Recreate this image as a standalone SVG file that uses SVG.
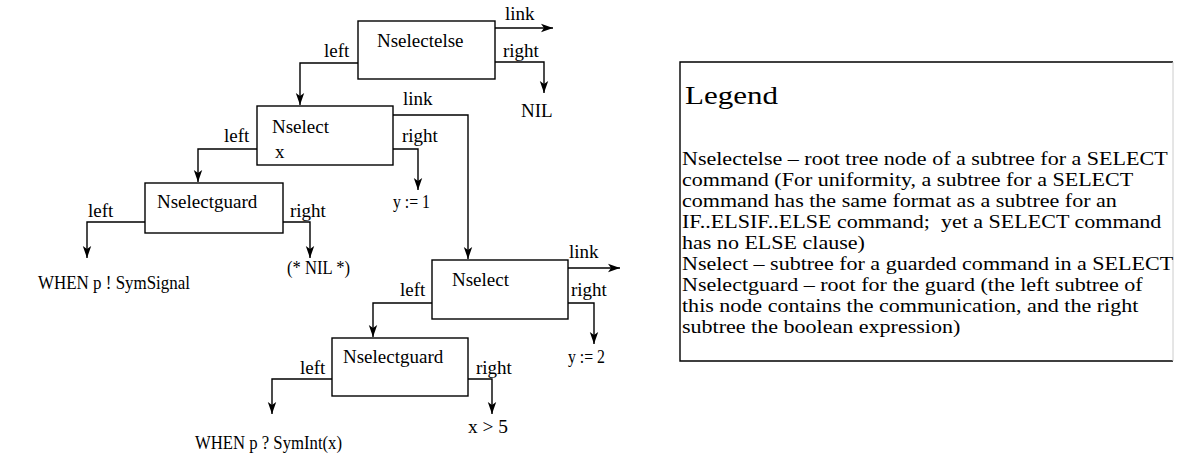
<svg xmlns="http://www.w3.org/2000/svg" width="1177" height="455" viewBox="0 0 1177 455">
<defs>
<style>
text { font-family: "Liberation Serif", "Times New Roman", serif; font-size: 19px; fill: #000; }
.leaf { font-size: 18.5px; }
.node rect { fill: #fff; stroke: #000; stroke-width: 1.4; }
.edge { fill: none; stroke: #000; stroke-width: 1.4; }
.legend-title { font-size: 26px; }
.legend-body { font-size: 19px; }
</style>
<marker id="arr" viewBox="0 0 12 10" refX="12" refY="5" markerWidth="12" markerHeight="10" markerUnits="userSpaceOnUse" orient="auto">
<path d="M0,0.8 L12,5 L0,9.2 L3,5 z" fill="#000"/>
</marker>
</defs>
<rect width="1177" height="455" fill="#fff"/>

<g id="connectors">
<path class="edge" d="M495,28 H553" marker-end="url(#arr)"/>
<path class="edge" d="M495,62 H544 V93" marker-end="url(#arr)"/>
<path class="edge" d="M358,63 H300 V105" marker-end="url(#arr)"/>
<path class="edge" d="M393,115 H468 V259" marker-end="url(#arr)"/>
<path class="edge" d="M393,149 H418 V190" marker-end="url(#arr)"/>
<path class="edge" d="M257,149 H198 V182" marker-end="url(#arr)"/>
<path class="edge" d="M145,222 H87 V258" marker-end="url(#arr)"/>
<path class="edge" d="M283,222 H310 V258" marker-end="url(#arr)"/>
<path class="edge" d="M568,268 H620" marker-end="url(#arr)"/>
<path class="edge" d="M568,303 H594 V344" marker-end="url(#arr)"/>
<path class="edge" d="M432,303 H373 V337" marker-end="url(#arr)"/>
<path class="edge" d="M332,379 H272 V414" marker-end="url(#arr)"/>
<path class="edge" d="M468,379 H492 V414" marker-end="url(#arr)"/>
<text x="505" y="20">link</text>
<text x="503" y="57">right</text>
<text x="324" y="57">left</text>
<text x="403" y="105">link</text>
<text x="402" y="142">right</text>
<text x="224" y="142">left</text>
<text x="88" y="217">left</text>
<text x="290" y="217">right</text>
<text x="569" y="258">link</text>
<text x="571" y="296">right</text>
<text x="400" y="296">left</text>
<text x="300" y="374">left</text>
<text x="476" y="374">right</text>
</g>

<g id="nselectelse" class="node">
<rect x="358" y="21" width="137" height="58"/>
<text x="377" y="47">Nselectelse</text>
</g>
<g id="nselect1" class="node">
<rect x="257" y="106" width="136" height="59"/>
<text x="272" y="133">Nselect</text>
<text x="275" y="158">x</text>
</g>
<g id="nselectguard1" class="node">
<rect x="145" y="183" width="138" height="50"/>
<text x="157" y="208">Nselectguard</text>
</g>
<g id="nselect2" class="node">
<rect x="432" y="260" width="136" height="59"/>
<text x="452" y="286">Nselect</text>
</g>
<g id="nselectguard2" class="node">
<rect x="332" y="338" width="136" height="58"/>
<text x="343" y="363">Nselectguard</text>
</g>

<g id="leaf-nil"><text x="521" y="117">NIL</text></g>
<g id="leaf-y1"><text class="leaf" x="393" y="208" textLength="37" lengthAdjust="spacingAndGlyphs">y := 1</text></g>
<g id="leaf-when1"><text class="leaf" x="38" y="289" textLength="152" lengthAdjust="spacingAndGlyphs">WHEN p ! SymSignal</text></g>
<g id="leaf-nil2"><text class="leaf" x="287" y="274" textLength="63" lengthAdjust="spacingAndGlyphs">(* NIL *)</text></g>
<g id="leaf-y2"><text class="leaf" x="568" y="363" textLength="37" lengthAdjust="spacingAndGlyphs">y := 2</text></g>
<g id="leaf-x5"><text class="leaf" x="468" y="433" textLength="40" lengthAdjust="spacingAndGlyphs">x &gt; 5</text></g>
<g id="leaf-when2"><text class="leaf" x="195" y="449" textLength="147" lengthAdjust="spacingAndGlyphs">WHEN p ? SymInt(x)</text></g>

<g id="legend">
<path d="M1173,62 H680 V361 H1173" fill="none" stroke="#000" stroke-width="1.4"/>
<path d="M1173,62 V361" fill="none" stroke="#ccc" stroke-width="1"/>
<text class="legend-title" x="685" y="104" textLength="93" lengthAdjust="spacingAndGlyphs">Legend</text>
<g transform="translate(682,0) scale(1.16,1)">
<text class="legend-body" x="0" y="165">Nselectelse – root tree node of a subtree for a SELECT</text>
<text class="legend-body" x="0" y="186">command (For uniformity, a subtree for a SELECT</text>
<text class="legend-body" x="0" y="207">command has the same format as a subtree for an</text>
<text class="legend-body" x="0" y="228" xml:space="preserve">IF..ELSIF..ELSE command;  yet a SELECT command</text>
<text class="legend-body" x="0" y="249">has no ELSE clause)</text>
<text class="legend-body" x="0" y="270">Nselect – subtree for a guarded command in a SELECT</text>
<text class="legend-body" x="0" y="291">Nselectguard – root for the guard (the left subtree of</text>
<text class="legend-body" x="0" y="312">this node contains the communication, and the right</text>
<text class="legend-body" x="0" y="333">subtree the boolean expression)</text>
</g>
</g>
</svg>
